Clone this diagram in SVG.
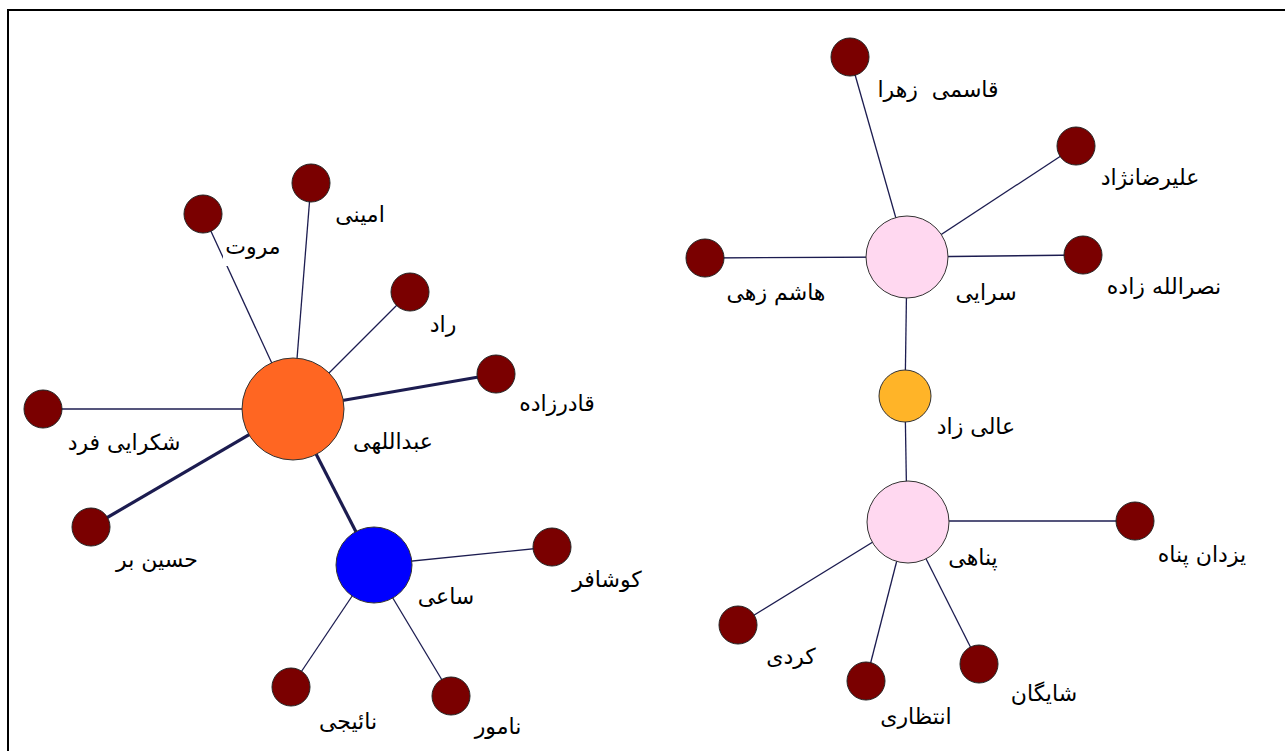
<svg xmlns="http://www.w3.org/2000/svg" width="1285" height="751" viewBox="0 0 1285 751">
<style>
.e{stroke:#1c1c50;stroke-width:1.3;fill:none}
.t{stroke:#1c1c50;stroke-width:3.2;fill:none}
.s{fill:#7a0000;stroke:#222;stroke-width:1}
.n{stroke:#333;stroke-width:1}
text{font-family:"DejaVu Sans",sans-serif;font-size:22px;fill:#000;text-anchor:middle;white-space:pre}
</style>
<rect x="0" y="0" width="1285" height="751" fill="#fff"/>
<rect x="8" y="10" width="1300" height="800" fill="none" stroke="#000" stroke-width="2"/>
<g id="edges">
<line class="e" x1="293" y1="409" x2="203" y2="214"/>
<line class="e" x1="293" y1="409" x2="311" y2="183"/>
<line class="e" x1="293" y1="409" x2="410" y2="292"/>
<line class="t" x1="293" y1="409" x2="496" y2="374"/>
<line class="e" x1="293" y1="409" x2="43" y2="409"/>
<line class="t" x1="293" y1="409" x2="91" y2="527"/>
<line class="t" x1="293" y1="409" x2="373" y2="565"/>
<line class="e" x1="373" y1="565" x2="551" y2="547"/>
<line class="e" x1="373" y1="565" x2="291" y2="687"/>
<line class="e" x1="373" y1="565" x2="451" y2="695"/>
<line class="e" x1="907" y1="257" x2="850" y2="57"/>
<line class="e" x1="907" y1="257" x2="1076" y2="146"/>
<line class="e" x1="907" y1="257" x2="705" y2="258"/>
<line class="e" x1="907" y1="257" x2="1083" y2="255"/>
<line class="e" x1="907" y1="257" x2="905" y2="398"/>
<line class="e" x1="905" y1="398" x2="907" y2="521"/>
<line class="e" x1="907" y1="521" x2="1135" y2="521"/>
<line class="e" x1="907" y1="521" x2="738" y2="625"/>
<line class="e" x1="907" y1="521" x2="866" y2="681"/>
<line class="e" x1="907" y1="521" x2="979" y2="664"/>
</g>
<g id="n-abdollahi"><circle class="n" cx="293" cy="409" r="51" fill="#ff6622"/><text x="393" y="449">عبداللهی</text></g>
<g id="n-morovat"><ellipse class="s" cx="203" cy="214" rx="19" ry="19"/><rect x="223" y="232" width="62" height="34" fill="#fff"/><text x="253" y="254">مروت</text></g>
<g id="n-amini"><ellipse class="s" cx="311" cy="183" rx="19" ry="19"/><text x="360" y="222">امینی</text></g>
<g id="n-rad"><ellipse class="s" cx="410" cy="292" rx="19" ry="19"/><text x="443" y="332">راد</text></g>
<g id="n-ghaderzadeh"><ellipse class="s" cx="496" cy="374" rx="19" ry="19"/><text x="557" y="411">قادرزاده</text></g>
<g id="n-shokraei"><ellipse class="s" cx="43" cy="409" rx="19" ry="19"/><text x="124" y="450">شکرایی فرد</text></g>
<g id="n-hosseinbor"><ellipse class="s" cx="91" cy="527" rx="19" ry="19"/><text x="157" y="567">حسین بر</text></g>
<g id="n-saei"><circle class="n" cx="374" cy="565" r="38" fill="#0000ff"/><text x="446" y="604">ساعی</text></g>
<g id="n-koushafar"><ellipse class="s" cx="552" cy="547" rx="19" ry="19"/><text x="607" y="587">کوشافر</text></g>
<g id="n-naeiji"><ellipse class="s" cx="291" cy="687" rx="19" ry="19"/><text x="348" y="729">نائیجی</text></g>
<g id="n-namvar"><ellipse class="s" cx="451" cy="696" rx="19" ry="19"/><text x="498" y="734">نامور</text></g>
<g id="n-saraei"><circle class="n" cx="907" cy="257" r="41" fill="#ffd8f0"/><text x="986" y="300">سرایی</text></g>
<g id="n-ghasemi"><ellipse class="s" cx="850" cy="57" rx="19" ry="19"/><text x="938" y="97">قاسمی  زهرا</text></g>
<g id="n-alirezanejad"><ellipse class="s" cx="1076" cy="146" rx="19" ry="19"/><text x="1150" y="185">علیرضانژاد</text></g>
<g id="n-hashemzehi"><ellipse class="s" cx="705" cy="258" rx="19" ry="19"/><text x="776" y="300">هاشم زهی</text></g>
<g id="n-nasrollahzadeh"><ellipse class="s" cx="1083" cy="255" rx="19" ry="19"/><text x="1164" y="294">نصرالله زاده</text></g>
<g id="n-alizad"><circle class="n" cx="905" cy="396" r="26" fill="#ffb428"/><text x="976" y="434">عالی زاد</text></g>
<g id="n-panahi"><circle class="n" cx="908" cy="522" r="41" fill="#ffd8f0"/><text x="973" y="565">پناهی</text></g>
<g id="n-yazdanpanah"><ellipse class="s" cx="1135" cy="521" rx="19" ry="19"/><text x="1202" y="562">یزدان پناه</text></g>
<g id="n-kordi"><ellipse class="s" cx="738" cy="625" rx="19" ry="19"/><text x="791" y="664">کردی</text></g>
<g id="n-entezari"><ellipse class="s" cx="866" cy="681" rx="19" ry="19"/><text x="916" y="724">انتظاری</text></g>
<g id="n-shayegan"><ellipse class="s" cx="979" cy="664" rx="19" ry="19"/><text x="1044" y="701">شایگان</text></g>
</svg>
